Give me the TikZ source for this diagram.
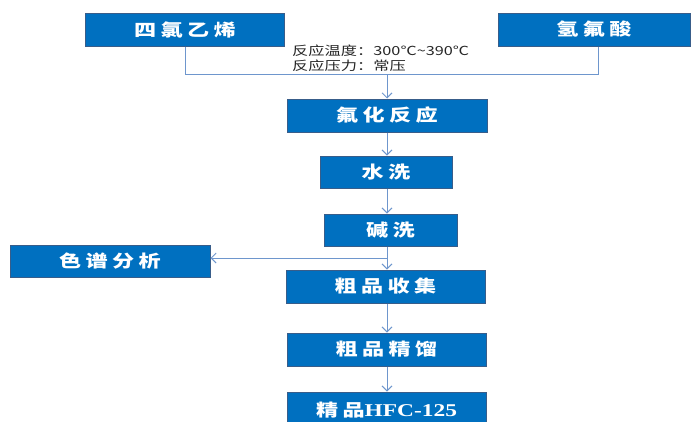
\documentclass[tikz,border=0pt]{standalone}
\usepackage{fontspec}
\setmainfont{Liberation Serif}
\newfontfamily\cjkbox[LetterSpace=20]{Noto Sans CJK SC}
\newfontfamily\cjknote{Noto Sans CJK SC}
\usetikzlibrary{arrows.meta}
\definecolor{boxfill}{RGB}{0,112,192}
\definecolor{boxline}{RGB}{56,93,138}
\definecolor{conn}{RGB}{110,150,205}
\newcommand{\wide}[1]{\scalebox{1.3}[1]{#1}}
\tikzset{
  x=1pt,y=-1pt,
  stepbox/.style={rectangle,fill=boxfill,draw=boxline,line width=1pt,text=white,
    font=\cjkbox\fontsize{17}{19}\selectfont\bfseries,inner sep=0pt},
  conline/.style={draw=conn,line width=1pt},
  conarrow/.style={conline,-{Straight Barb[length=5pt,width=10pt,line width=0.9pt]}},
  note/.style={font=\cjknote\fontsize{12.5}{13}\selectfont,text=black!85,anchor=west,inner sep=0pt}
}
\begin{document}
\begin{tikzpicture}
\useasboundingbox (0,0) rectangle (691,421);
\node[stepbox,minimum width=199pt,minimum height=33pt] (A) at (185,29.5) {\wide{四氯乙烯}};
\node[stepbox,minimum width=192pt,minimum height=33pt] (B) at (594,29.5) {\wide{氢氟酸}};
\node[stepbox,minimum width=200pt,minimum height=33pt] (C) at (387,115.5) {\wide{氟化反应}};
\node[stepbox,minimum width=132pt,minimum height=32pt] (D) at (386,172) {\wide{水洗}};
\node[stepbox,minimum width=133pt,minimum height=32pt] (E) at (390.5,230) {\wide{碱洗}};
\node[stepbox,minimum width=200pt,minimum height=32pt] (F) at (110,261) {\wide{色谱分析}};
\node[stepbox,minimum width=199pt,minimum height=33pt] (G) at (385.5,286.5) {\wide{粗品收集}};
\node[stepbox,minimum width=199pt,minimum height=33pt] (H) at (386.5,349.5) {\wide{粗品精馏}};
\node[stepbox,minimum width=199pt,minimum height=36pt] (I) at (386.5,410) {\wide{精品{\rmfamily\bfseries\fontsize{18}{20}\selectfont HFC-125}}};
\node[note] (T1) at (292,51) {\scalebox{1.3}[1]{反应温度：300℃\textasciitilde 390℃}};
\node[note] (T2) at (292,66) {\scalebox{1.3}[1]{反应压力：常压}};
\coordinate (m) at (387,74);
\coordinate (bs) at ([xshift=4pt]B.south);
\coordinate (br) at (387,258);
\draw[conline] (A.south) |- (bs |- m) -- (bs);
\draw[conarrow] (m) -- (C.north);
\draw[conarrow] (C.south) -- (C.south |- D.north);
\draw[conarrow] (D.south -| C.south) -- (E.north -| C.south);
\draw[conarrow] (E.south -| C.south) -- (G.north -| C.south);
\draw[conarrow] (br) -- (F.east |- br);
\draw[conarrow] (G.south -| C.south) -- (H.north -| C.south);
\draw[conarrow] (H.south -| C.south) -- (I.north -| C.south);
\end{tikzpicture}
\end{document}
